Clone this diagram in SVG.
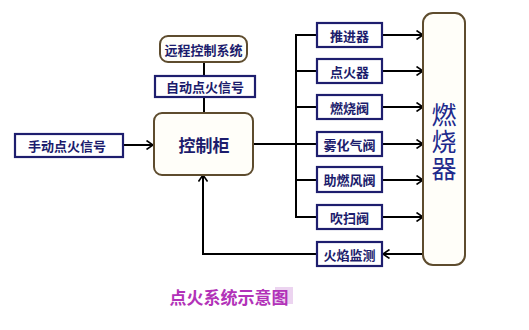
<svg xmlns="http://www.w3.org/2000/svg" width="529" height="330" viewBox="0 0 529 330">
<defs>
<style>
.box{fill:#ffffff;stroke:#1e1e6e;stroke-width:2.2}
.rbox{fill:#fffef9;stroke:#5e4c2e;stroke-width:2}
.lbl{font-family:"Noto Sans CJK SC","Noto Sans CJK JP",sans-serif;font-weight:bold;font-size:13px;fill:#1c1c6c;text-anchor:middle;dominant-baseline:central}
.big{font-family:"Noto Sans CJK SC","Noto Sans CJK JP",sans-serif;font-size:25px;fill:#1e2a8c;text-anchor:middle;writing-mode:vertical-rl;letter-spacing:2px}
.ln{fill:none;stroke:#000;stroke-width:2}
</style>
<marker id="ah" viewBox="0 0 8 10" refX="7.5" refY="5" markerWidth="8" markerHeight="10" markerUnits="userSpaceOnUse" orient="auto">
<path d="M1,0.5 L7.5,5 L1,9.5" fill="none" stroke="#000" stroke-width="1.6"/>
</marker>
</defs>
<rect width="529" height="330" fill="#ffffff"/>
<g id="connectors">
<line class="ln" x1="123" y1="145" x2="153" y2="145" marker-end="url(#ah)"/>
<line class="ln" x1="204" y1="62" x2="204" y2="76"/>
<line class="ln" x1="204" y1="97" x2="204" y2="113"/>
<line class="ln" x1="253" y1="144" x2="317" y2="144"/>
<line class="ln" x1="296" y1="34" x2="296" y2="218"/>
<line class="ln" x1="296" y1="35" x2="317" y2="35"/>
<line class="ln" x1="296" y1="71" x2="317" y2="71"/>
<line class="ln" x1="296" y1="107" x2="317" y2="107"/>
<line class="ln" x1="296" y1="180" x2="317" y2="180"/>
<line class="ln" x1="296" y1="217" x2="317" y2="217"/>
<line class="ln" x1="382" y1="35" x2="423" y2="35" marker-end="url(#ah)"/>
<line class="ln" x1="382" y1="71" x2="423" y2="71" marker-end="url(#ah)"/>
<line class="ln" x1="382" y1="107" x2="423" y2="107" marker-end="url(#ah)"/>
<line class="ln" x1="382" y1="144" x2="423" y2="144" marker-end="url(#ah)"/>
<line class="ln" x1="382" y1="180" x2="423" y2="180" marker-end="url(#ah)"/>
<line class="ln" x1="382" y1="217" x2="423" y2="217" marker-end="url(#ah)"/>
<line class="ln" x1="423" y1="254" x2="383" y2="254" marker-end="url(#ah)"/>
<polyline class="ln" points="317,254 203,254 203,175" marker-end="url(#ah)"/>
</g>
<g id="remote">
<rect class="rbox" x="160" y="36" width="87" height="26" rx="8" fill="#ffffff"/>
<text class="lbl" x="203.5" y="49">远程控制系统</text>
</g>
<g id="auto">
<rect class="box" x="155" y="76" width="100" height="21"/>
<text class="lbl" x="205" y="86.5">自动点火信号</text>
</g>
<g id="manual">
<rect class="box" x="15" y="134" width="108" height="23"/>
<text class="lbl" x="67" y="145.5">手动点火信号</text>
</g>
<g id="cabinet">
<rect class="rbox" x="154" y="113" width="99" height="62" rx="8"/>
<text class="lbl" x="204" y="144" style="font-size:17px">控制柜</text>
</g>
<g id="n1"><rect class="box" x="317" y="23" width="65" height="24"/><text class="lbl" x="349.5" y="35">推进器</text></g>
<g id="n2"><rect class="box" x="317" y="59" width="65" height="24"/><text class="lbl" x="349.5" y="71">点火器</text></g>
<g id="n3"><rect class="box" x="317" y="95" width="65" height="24"/><text class="lbl" x="349.5" y="107">燃烧阀</text></g>
<g id="n4"><rect class="box" x="317" y="132" width="65" height="24"/><text class="lbl" x="349.5" y="144">雾化气阀</text></g>
<g id="n5"><rect class="box" x="317" y="167" width="65" height="25"/><text class="lbl" x="349.5" y="179.5">助燃风阀</text></g>
<g id="n6"><rect class="box" x="317" y="205" width="65" height="24"/><text class="lbl" x="349.5" y="217">吹扫阀</text></g>
<g id="n7"><rect class="box" x="317" y="242" width="65" height="24"/><text class="lbl" x="349.5" y="254">火焰监测</text></g>
<g id="burner">
<rect class="rbox" x="423" y="13" width="42" height="252" rx="10"/>
<text class="big" x="444" y="142">燃烧器</text>
</g>
<g id="title">
<rect x="275" y="287" width="18" height="17" fill="#ecd4f0"/>
<text x="229" y="296" style="font-family:'Noto Sans CJK SC','Noto Sans CJK JP',sans-serif;font-weight:bold;font-size:17px;fill:#b232b8;text-anchor:middle;dominant-baseline:central">点火系统示意图</text>
</g>
</svg>
